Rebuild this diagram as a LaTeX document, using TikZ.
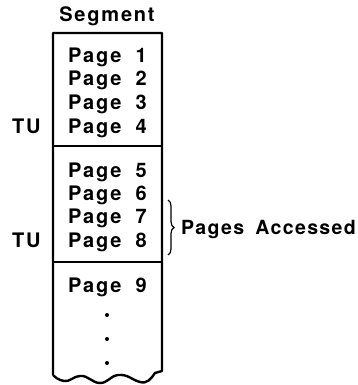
\documentclass[tikz,border=0pt]{standalone}
\usepackage{fontspec}
\setmainfont{TeX Gyre Heros}[LetterSpace=9]
\usetikzlibrary{decorations.pathreplacing}
\begin{document}
\begin{tikzpicture}[x=1pt,y=-1pt,
  lbl/.style={inner sep=0pt,anchor=base west,font=\fontsize{20}{22}\selectfont\bfseries},
  num/.style={lbl,anchor=base east},
  acc/.style={inner sep=0pt,font=\fontsize{19.5}{21}\selectfont\bfseries\addfontfeature{LetterSpace=7}},
  box/.style={line width=2.4pt}]
\useasboundingbox (0,0) rectangle (357,385);
\node[lbl,anchor=base] (seg) at (107,22) {Segment};
% box outline
\coordinate (tl) at (53,33);
\coordinate (tr) at (162,33);
\coordinate (bl) at (53,375);
\coordinate (br) at (162,371);
\draw[box,line join=round] (bl) -- (tl) -- (tr) -- (br) -- (155,373)
  .. controls (151,379) and (147,384) .. (140,382)
  .. controls (132,380) and (128,374) .. (118,375)
  .. controls (110,376) and (108,383) .. (100,383)
  .. controls (92,383) and (88,375) .. (80,376)
  .. controls (72,377) and (70,382) .. (64,381)
  .. controls (58,380) and (55,377) .. (bl);
\coordinate (d1l) at (53,146);
\coordinate (d1r) at (162,146);
\coordinate (d2l) at (53,262);
\coordinate (d2r) at (162,262);
\draw[box] (d1l) -- (d1r);
\draw[box] (d2l) -- (d2r);
% pages
\foreach \i/\y in {1/63,2/86,3/109.5,4/133,5/177,6/200,7/223.5,8/247,9/292}{
  \node[lbl] (p\i) at (68,\y) {Page};
  \node[num] (n\i) at (147,\y) {\i};
}
\node[lbl] (tu1) at (12,133) {TU};
\node[lbl] (tu2) at (12,247) {TU};
% dots
\fill (107,315) circle (2) (107,339) circle (2) (107,363) circle (2);
% brace
\coordinate (bt) at (168,200);
\coordinate (bb) at (168,255);
\draw[line width=1.2pt,decorate,decoration={brace,amplitude=6pt}] (bt) -- (bb);
\node[acc,anchor=base west] (pa1) at (181,234.5) {Pages};
\node[acc,anchor=base east] (pa2) at (356,234.5) {Accessed};
\end{tikzpicture}
\end{document}
